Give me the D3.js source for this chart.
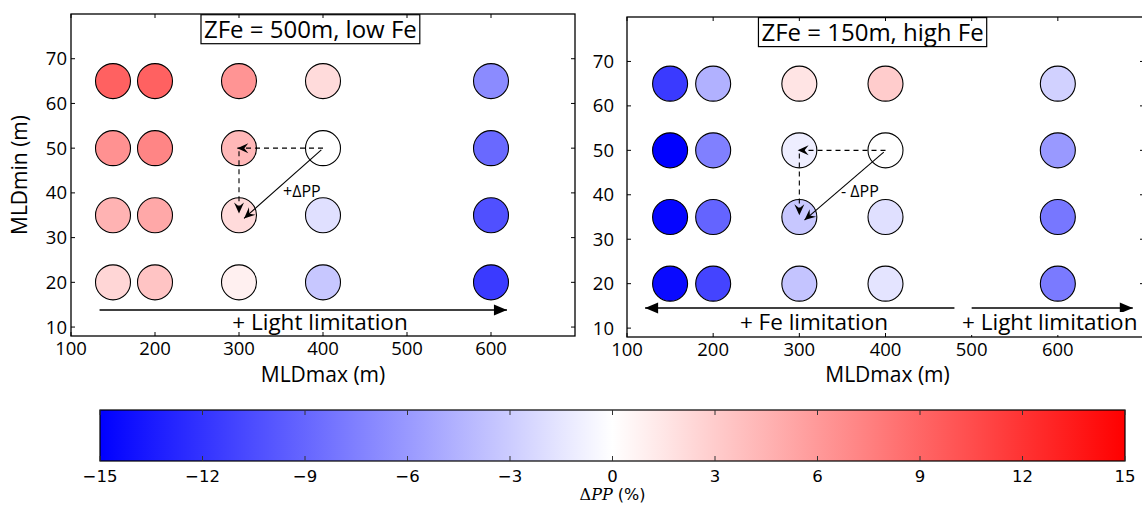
<!DOCTYPE html>
<html><head><meta charset="utf-8">
<script src="https://cdn.jsdelivr.net/npm/d3@7"></script>
<style>body{margin:0;background:#fff}svg{display:block}</style>
</head><body>
<script>
const mldmax = [150, 200, 300, 400, 600];
const mldmin = [65, 50, 35, 20];
const xTicks = [100, 200, 300, 400, 500, 600];
const yTicks = [10, 20, 30, 40, 50, 60, 70];
const cbTicks = [-15, -12, -9, -6, -3, 0, 3, 6, 9, 12, 15];
// ΔPP (%) for each MLDmin row (65,50,35,20) and MLDmax column
const lowFe = [
  [9.3, 9.3, 6.3, 2.1, -6.8],
  [6.5, 7.2, 4.2, 0.0, -8.8],
  [4.5, 5.1, 2.1, -1.8, -10.3],
  [2.4, 3.5, 0.9, -3.3, -11.6]
];
const highFe = [
  [-11.6, -4.6, 1.6, 3.0, -2.7],
  [-15.0, -7.5, -1.0, 0.0, -6.0],
  [-14.7, -9.1, -3.3, -1.8, -8.0],
  [-14.4, -11.0, -3.5, -1.6, -7.8]
];
const titles = ["ZFe = 500m, low Fe", "ZFe = 150m, high Fe"];

const W = 1142, H = 506;
const svg = d3.select("body").append("svg").attr("width", W).attr("height", H);
const font = "'Open Sans', 'Noto Sans', sans-serif";
const color = d3.scaleLinear().domain([-15, 0, 15]).range(["#0000ff", "#ffffff", "#ff0000"]);

const defs = svg.append("defs");
defs.append("marker").attr("id", "big").attr("viewBox", "-14 -7 16 14")
  .attr("refX", 0).attr("refY", 0).attr("markerWidth", 16).attr("markerHeight", 14)
  .attr("markerUnits", "userSpaceOnUse").attr("orient", "auto")
  .append("path").attr("d", "M0,0 L-13,-5.5 L-13,5.5 Z").attr("fill", "#000");
defs.append("marker").attr("id", "small").attr("viewBox", "-12 -6 14 12")
  .attr("refX", 0).attr("refY", 0).attr("markerWidth", 14).attr("markerHeight", 12)
  .attr("markerUnits", "userSpaceOnUse").attr("orient", "auto")
  .append("path").attr("d", "M0,0 L-11,-5 L-7,0 L-11,5 Z").attr("fill", "#000");

const panels = [
  {data: lowFe, x0: 71, x1: 575, y0: 14, y1: 336, tickLabelGap: 4, title: titles[0], sign: "+ΔPP"},
  {data: highFe, x0: 627, x1: 1144, y0: 17, y1: 337, tickLabelGap: 13, title: titles[1], sign: "- ΔPP"}
];

panels.forEach((p, pi) => {
  const x = d3.scaleLinear().domain([100, 700]).range([p.x0, p.x1]);
  const y = d3.scaleLinear().domain([8, 80]).range([p.y1, p.y0]);
  const g = svg.append("g");

  // circles
  p.data.forEach((row, ri) => row.forEach((v, ci) => {
    g.append("circle").attr("cx", x(mldmax[ci])).attr("cy", y(mldmin[ri])).attr("r", 17.5)
      .attr("fill", color(v)).attr("stroke", "#000").attr("stroke-width", 1.1);
  }));

  // frame
  g.append("rect").attr("x", p.x0).attr("y", p.y0).attr("width", p.x1 - p.x0).attr("height", p.y1 - p.y0)
    .attr("fill", "none").attr("stroke", "#000").attr("stroke-width", 1.3);

  // ticks (inward, all sides)
  xTicks.forEach(t => {
    g.append("line").attr("x1", x(t)).attr("x2", x(t)).attr("y1", p.y1).attr("y2", p.y1 - 4).attr("stroke", "#000");
    g.append("line").attr("x1", x(t)).attr("x2", x(t)).attr("y1", p.y0).attr("y2", p.y0 + 4).attr("stroke", "#000");
    g.append("text").attr("x", x(t)).attr("y", p.y1 + 19).attr("text-anchor", "middle")
      .attr("font-family", font).attr("font-size", 18.5).text(t);
  });
  yTicks.forEach(t => {
    g.append("line").attr("x1", p.x0).attr("x2", p.x0 + 4).attr("y1", y(t)).attr("y2", y(t)).attr("stroke", "#000");
    g.append("line").attr("x1", p.x1).attr("x2", p.x1 - 4).attr("y1", y(t)).attr("y2", y(t)).attr("stroke", "#000");
    g.append("text").attr("x", p.x0 - p.tickLabelGap).attr("y", y(t) + 6.5).attr("text-anchor", "end")
      .attr("font-family", font).attr("font-size", 18.5).text(t);
  });

  // axis labels
  g.append("text").attr("x", (p.x0 + Math.min(p.x1, W)) / 2 + (pi ? 3 : 0)).attr("y", 382).attr("text-anchor", "middle")
    .attr("font-family", font).attr("font-size", 21).text("MLDmax (m)");
  if (pi === 0) {
    g.append("text").attr("transform", `translate(27,${(p.y0 + p.y1) / 2}) rotate(-90)`)
      .attr("text-anchor", "middle").attr("font-family", font).attr("font-size", 21).text("MLDmin (m)");
  }

  // boxed title
  const tt = g.append("text").attr("x", x(385)).attr("y", y(76.6) + 8.5).attr("text-anchor", "middle")
    .attr("font-family", font).attr("font-size", 24).text(p.title);
  const bb = tt.node().getBBox();
  g.insert("rect", "text").attr("x", bb.x - 3).attr("y", y(76.6) - 14.5).attr("width", bb.width + 6).attr("height", 29)
    .attr("fill", "#fff").attr("stroke", "#000").attr("stroke-width", 1.2);
  tt.raise();

  // ΔPP annotation arrows
  g.append("line").attr("x1", x(400)).attr("y1", y(50)).attr("x2", x(298)).attr("y2", y(50))
    .attr("stroke", "#000").attr("stroke-width", 1.1).attr("stroke-dasharray", "5,4").attr("marker-end", "url(#small)");
  g.append("line").attr("x1", x(300)).attr("y1", y(49.3)).attr("x2", x(300)).attr("y2", y(35.4))
    .attr("stroke", "#000").attr("stroke-width", 1.1).attr("stroke-dasharray", "5,4").attr("marker-end", "url(#small)");
  g.append("line").attr("x1", x(398)).attr("y1", y(49.6)).attr("x2", x(306)).attr("y2", y(34.3))
    .attr("stroke", "#000").attr("stroke-width", 1.1).attr("marker-end", "url(#small)");
  g.append("text").attr("x", pi ? 841 : 283).attr("y", 197).attr("font-family", font).attr("font-size", 16).text(p.sign);

  // limitation arrows
  if (pi === 0) {
    g.append("line").attr("x1", x(134)).attr("y1", 310).attr("x2", x(619)).attr("y2", 310)
      .attr("stroke", "#000").attr("stroke-width", 1.4).attr("marker-end", "url(#big)");
    g.append("text").attr("x", 320).attr("y", 330).attr("text-anchor", "middle").attr("font-family", font)
      .attr("font-size", 22.5).text("+ Light limitation");
  } else {
    g.append("line").attr("x1", x(480)).attr("y1", 308).attr("x2", x(121)).attr("y2", 308)
      .attr("stroke", "#000").attr("stroke-width", 1.4).attr("marker-end", "url(#big)");
    g.append("line").attr("x1", x(500)).attr("y1", 308).attr("x2", x(687)).attr("y2", 308)
      .attr("stroke", "#000").attr("stroke-width", 1.4).attr("marker-end", "url(#big)");
    g.append("rect").attr("x", 957).attr("y", 312).attr("width", 190).attr("height", 23).attr("fill", "#fff");
    g.append("text").attr("x", 814).attr("y", 330).attr("text-anchor", "middle").attr("font-family", font)
      .attr("font-size", 22.5).text("+ Fe limitation");
    g.append("text").attr("x", 962).attr("y", 330).attr("font-family", font)
      .attr("font-size", 22.5).text("+ Light limitation");
  }
});

// colorbar
const cb = {x0: 100, x1: 1125, y0: 410, y1: 461};
const cx = d3.scaleLinear().domain([-15, 15]).range([cb.x0, cb.x1]);
const grad = defs.append("linearGradient").attr("id", "cbgrad").attr("x1", "0%").attr("x2", "100%");
d3.range(-15, 15.01, 1.5).forEach(v => {
  grad.append("stop").attr("offset", ((v + 15) / 30 * 100) + "%").attr("stop-color", color(v));
});
svg.append("rect").attr("x", cb.x0).attr("y", cb.y0).attr("width", cb.x1 - cb.x0).attr("height", cb.y1 - cb.y0)
  .attr("fill", "url(#cbgrad)").attr("stroke", "#000").attr("stroke-width", 1.2);
cbTicks.forEach(t => {
  svg.append("line").attr("x1", cx(t)).attr("x2", cx(t)).attr("y1", cb.y0).attr("y2", cb.y0 + 5).attr("stroke", "#333");
  svg.append("line").attr("x1", cx(t)).attr("x2", cx(t)).attr("y1", cb.y1).attr("y2", cb.y1 - 5).attr("stroke", "#333");
  svg.append("text").attr("x", cx(t)).attr("y", 482).attr("text-anchor", "middle")
    .attr("font-family", "'DejaVu Sans', sans-serif").attr("font-size", 16.5)
    .text(t < 0 ? "\u2212" + Math.abs(t) : String(t));
});
const lab = svg.append("text").attr("x", cx(0)).attr("y", 500).attr("text-anchor", "middle")
  .attr("font-family", "'DejaVu Serif', serif").attr("font-size", 16);
lab.append("tspan").text("\u0394");
lab.append("tspan").attr("font-style", "italic").text("PP");
lab.append("tspan").attr("font-family", "'DejaVu Sans', sans-serif").text(" (%)");
</script>
</body></html>
